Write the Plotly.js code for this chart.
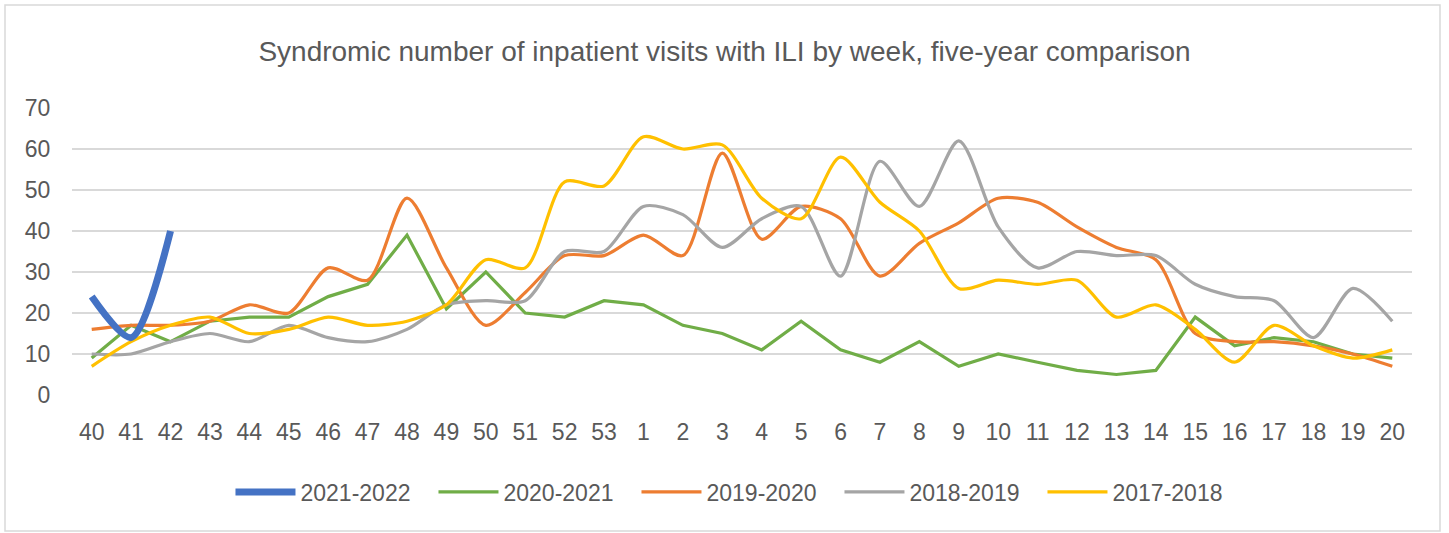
<!DOCTYPE html>
<html>
<head>
<meta charset="utf-8">
<script src="https://cdn.plot.ly/plotly-3.0.1.min.js"></script>
<style>
html,body{margin:0;padding:0;background:#fff;}
#chart{width:1449px;height:533px;}
</style>
</head>
<body>
<div id="chart"></div>
<script>
const weeks = ["40","41","42","43","44","45","46","47","48","49","50","51","52","53","1","2","3","4","5","6","7","8","9","10","11","12","13","14","15","16","17","18","19","20"];

const s2021_2022 = [24, 14, 40];
const s2020_2021 = [9, 17, 13, 18, 19, 19, 24, 27, 39, 21, 30, 20, 19, 23, 22, 17, 15, 11, 18, 11, 8, 13, 7, 10, 8, 6, 5, 6, 19, 12, 14, 13, 10, 9];
const s2019_2020 = [16, 17, 17, 18, 22, 20, 31, 28, 48, 31, 17, 25, 34, 34, 39, 34, 59, 38, 46, 43, 29, 37, 42, 48, 47, 41, 36, 33, 15, 13, 13, 12, 10, 7];
const s2018_2019 = [10, 10, 13, 15, 13, 17, 14, 13, 16, 22, 23, 23, 35, 35, 46, 44, 36, 43, 46, 29, 57, 46, 62, 41, 31, 35, 34, 34, 27, 24, 23, 14, 26, 18];
const s2017_2018 = [7, 13, 17, 19, 15, 16, 19, 17, 18, 22, 33, 31, 52, 51, 63, 60, 61, 48, 43, 58, 47, 40, 26, 28, 27, 28, 19, 22, 16, 8, 17, 12, 9, 11];

const seriesNames = ["2021-2022", "2020-2021", "2019-2020", "2018-2019", "2017-2018"];
const seriesColors = ["#4472C4", "#70AD47", "#ED7D31", "#A5A5A5", "#FFC000"];

const FONT = "'Liberation Sans', Arial, sans-serif";

function mk(name, ys, color, width, shape, rank) {
  return {
    type: "scatter", mode: "lines", name: name,
    x: weeks.slice(0, ys.length), y: ys,
    line: {color: color, width: width, shape: shape, smoothing: 0.8},
    legendrank: rank,
    hoverinfo: "x+y+name"
  };
}

// older seasons drawn first so the current season stays on top
const data = [
  mk(seriesNames[1], s2020_2021, seriesColors[1], 3.2, "linear", 2),
  mk(seriesNames[2], s2019_2020, seriesColors[2], 3.2, "spline", 3),
  mk(seriesNames[3], s2018_2019, seriesColors[3], 3.2, "spline", 4),
  mk(seriesNames[4], s2017_2018, seriesColors[4], 3.2, "spline", 5),
  mk(seriesNames[0], s2021_2022, seriesColors[0], 7, "spline", 1)
];

const layout = {
  width: 1449, height: 533,
  paper_bgcolor: "#ffffff", plot_bgcolor: "#ffffff",
  margin: {l: 72, r: 37, t: 108, b: 138, pad: 0},
  font: {family: FONT, color: "#595959", size: 23},
  title: {
    text: "Syndromic number of inpatient visits with ILI by week, five-year comparison",
    font: {family: FONT, size: 28, color: "#595959"},
    x: 0.5, xanchor: "center", xref: "container",
    y: 1 - 51/533, yanchor: "middle", yref: "container"
  },
  xaxis: {
    type: "category",
    categoryorder: "array", categoryarray: weeks,
    range: [-0.5, 33.5],
    showgrid: false, zeroline: false, showline: false,
    ticks: "outside", ticklen: 16, tickcolor: "rgba(0,0,0,0)",
    tickfont: {family: FONT, size: 23, color: "#595959"},
    tickangle: 0, fixedrange: true
  },
  yaxis: {
    range: [0, 70], dtick: 10, tick0: 0,
    showgrid: true, gridcolor: "#D9D9D9", gridwidth: 1.5,
    zeroline: false, showline: false,
    ticks: "outside", ticklen: 16, tickcolor: "rgba(0,0,0,0)",
    tickfont: {family: FONT, size: 23, color: "#595959"},
    fixedrange: true
  },
  legend: {
    orientation: "h",
    x: 0.497, xanchor: "center",
    y: (395 - 492) / 287, yanchor: "middle",
    font: {family: FONT, size: 23, color: "#595959"},
    entrywidth: 128, entrywidthmode: "pixels",
    itemwidth: 60,
    traceorder: "normal",
    bgcolor: "rgba(0,0,0,0)"
  },
  shapes: [{
    type: "rect", xref: "paper", yref: "paper",
    x0: (5 - 72) / 1340, x1: (1440 - 72) / 1340,
    y0: -(531 - 395) / 287, y1: 1 + (108 - 5) / 287,
    line: {color: "#D9D9D9", width: 1.5}, fillcolor: "rgba(0,0,0,0)", layer: "below"
  }],
  showlegend: true
};

Plotly.newPlot("chart", data, layout, {displayModeBar: false, staticPlot: true});
</script>
</body>
</html>
